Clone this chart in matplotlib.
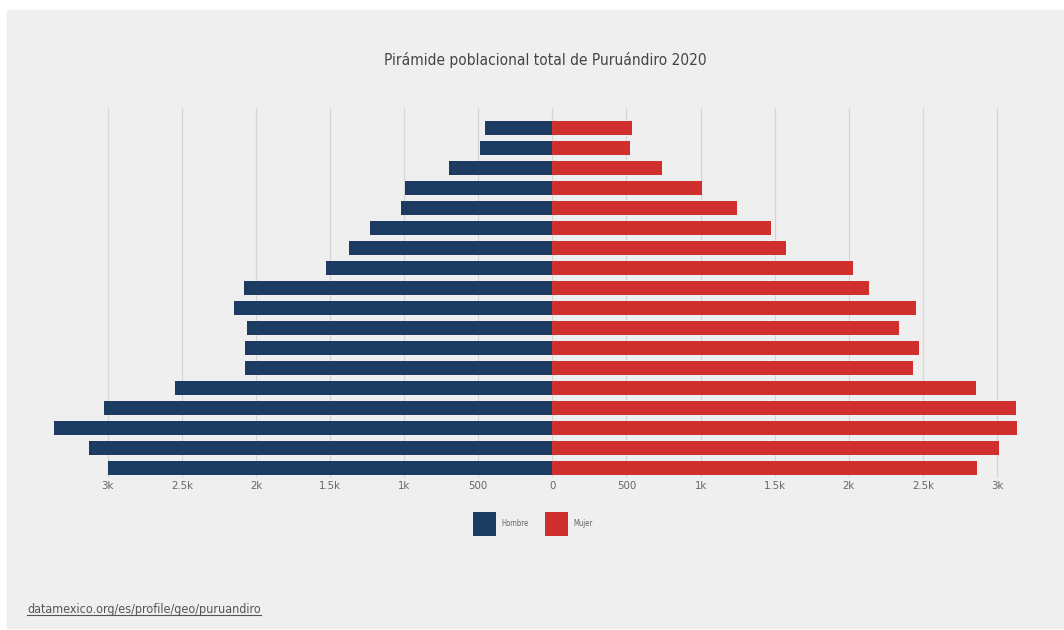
import matplotlib.pyplot as plt
from matplotlib.patches import Rectangle
from matplotlib.lines import Line2D

# age groups from oldest (top) to youngest (bottom)
hombres = [455, 487, 696, 995, 1022, 1232, 1374, 1529, 2083, 2149, 2061,
           2077, 2077, 2549, 3024, 3365, 3124, 2995]
mujeres = [538, 522, 740, 1008, 1244, 1474, 1575, 2031, 2137, 2456, 2337,
           2472, 2436, 2861, 3129, 3136, 3010, 2866]
tick_vals = [-3000, -2500, -2000, -1500, -1000, -500, 0, 500, 1000, 1500,
             2000, 2500, 3000]
tick_labels = ['3k', '2.5k', '2k', '1.5k', '1k', '500', '0', '500', '1k',
               '1.5k', '2k', '2.5k', '3k']

azul = '#1c3b60'
rojo = '#cf302d'
fondo = '#efefef'
fuente = 'DejaVu Sans'

W, H = 1064, 630
fig = plt.figure(figsize=(W / 100, H / 100), dpi=100)
fig.patch.set_facecolor('white')
fig.patches.append(Rectangle((7 / W, 2 / H), 1 - 7 / W, 618 / H,
                             transform=fig.transFigure, color=fondo, zorder=-10))

# axes placed in pixel terms: x 40..1040, y 108..478
ax = fig.add_axes([40 / W, 1 - 478 / H, 1000 / W, 370 / H])
ax.set_facecolor('none')
y = list(range(len(hombres)))
ax.barh(y, [-v for v in hombres], height=0.7, color=azul, label='Hombre', zorder=3)
ax.barh(y, mujeres, height=0.7, color=rojo, label='Mujer', zorder=3)

ax.set_xlim(-3457, 3290)
ax.set_ylim(17.48, -0.983)
ax.set_xticks(tick_vals)
ax.set_xticklabels(tick_labels, fontsize=8.2, color='#666666', family=fuente,
                   stretch='condensed')
ax.set_yticks([])
ax.tick_params(axis='x', length=0, pad=2)
ax.grid(axis='x', color='#d6d6d6', lw=0.9, zorder=0)
for s in ax.spines.values():
    s.set_visible(False)

fig.text(545 / W, 1 - 60 / H, 'Pirámide poblacional total de Puruándiro 2020',
         ha='center', va='center', fontsize=11.1, color='#444444', family=fuente,
         stretch='condensed')

leg = fig.legend(loc='center', bbox_to_anchor=(533 / W, 1 - 524 / H), ncol=2,
                 frameon=False, handlelength=3.0, handleheight=4.3,
                 handletextpad=0.7, columnspacing=2.2, labelcolor='#666666',
                 prop={'family': fuente, 'size': 5.5, 'stretch': 'condensed'})

src = fig.text(27 / W, 1 - 610 / H, 'datamexico.org/es/profile/geo/puruandiro',
               ha='left', va='center', fontsize=9, color='#555555', family=fuente,
               stretch='condensed')
fig.canvas.draw()
bb = src.get_window_extent().transformed(fig.transFigure.inverted())
fig.lines.append(Line2D([bb.x0, bb.x1], [bb.y0 + 0.002, bb.y0 + 0.002],
                        transform=fig.transFigure, color='#555555', lw=0.8))

fig.savefig('out.png', dpi=100, facecolor=fig.get_facecolor())
